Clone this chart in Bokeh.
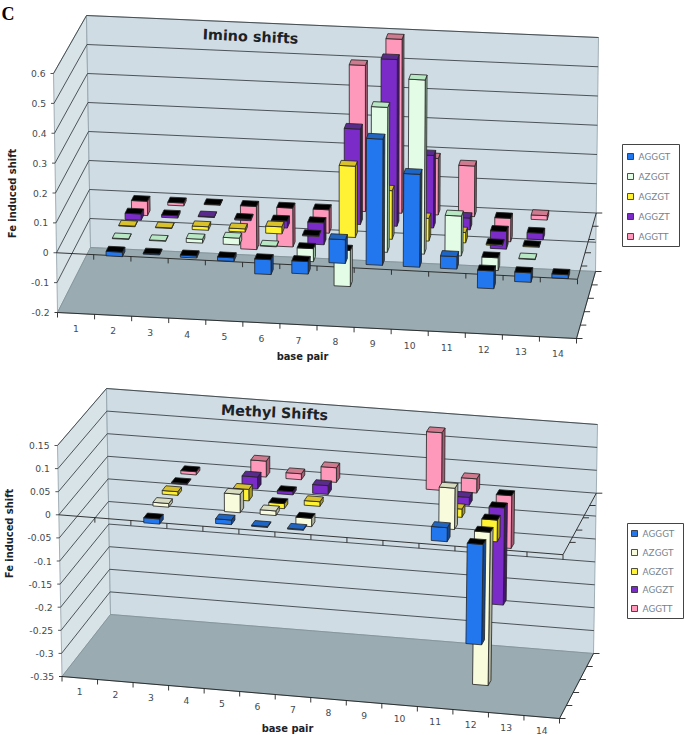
from bokeh.plotting import figure
from bokeh.models import Range1d, ColumnDataSource
from bokeh.core.properties import value
from bokeh.embed import file_html
from bokeh.resources import INLINE
import math

# ---------- data ----------
base_pairs = [str(i) for i in range(1, 15)]
series_names = ["AGGGT", "AZGGT", "AGZGT", "AGGZT", "AGGTT"]
N = None
imino_AGGGT = [N, -.015, -.003, -.007, -.012, -.05, -.042, .08, .425, .313, .042, -.06, -.032, -.013]
imino_AZGGT = [N, .002, .002, .013, .023, .002, -.044, -.122, .49, .589, .135, -.043, .002, N]
imino_AGZGT = [N, .002, .002, .012, .011, .024, -.003, .242, .165, .077, .035, -.004, -.003, N]
imino_AGGZT = [N, -.021, -.008, .002, -.005, -.024, -.075, .325, .568, .247, .04, -.06, -.022, N]
imino_AGGTT = [N, -.049, -.01, -.002, -.148, -.133, -.08, .5, .595, .193, .173, -.08, .015, N]

methyl_AGGGT = [N, N, -.011, N, .01, .002, .002, N, N, N, .03, -.215, N, N]
methyl_AZGGT = [N, N, .008, N, .04, .01, -.018, N, N, N, .089, -.33, N, N]
methyl_AGZGT = [N, N, .008, N, .025, -.011, .01, N, N, N, .018, -.047, N, N]
methyl_AGGZT = [N, N, -.002, N, .026, -.007, .019, N, N, N, .017, -.211, N, N]
methyl_AGGTT = [N, N, -.007, N, .035, .013, .032, N, N, .126, .031, -.115, N, N]

imino_ticks = ["0.6", "0.5", "0.4", "0.3", "0.2", "0.1", "0", "-0.1", "-0.2"]
methyl_ticks = ["0.15", "0.1", "0.05", "0", "-0.05", "-0.1", "-0.15", "-0.2", "-0.25", "-0.3", "-0.35"]

# ---------- styles: front, top, side ----------
BLUE = ("#2277ee", "#1f66c4", "#15478f")
PURPLE = ("#7a2bc8", "#5a2a8e", "#44176e")
YELLOW = ("#fff133", "#d9c12b", "#a59a24")
PINK = ("#ff99bb", "#d07a90", "#a85c74")
GREENISH = ("#e3fce6", "#b7e8c3", "#9cbfa4")
CREAM = ("#f8fbdc", "#d8dcc0", "#b0b4a0")
WALL, SIDEWALL, FLOOR = "#cfdce3", "#d8e3e8", "#9aacb2"

p = figure(width=684, height=735, x_range=Range1d(0, 684), y_range=Range1d(735, 0),
           x_axis_type=None, y_axis_type=None, toolbar_location=None, output_backend="svg",
           min_border=0, outline_line_color=None, background_fill_color="white")
p.grid.visible = False


def draw_chart(cfg):
    vmin, vmax = cfg["vmin"], cfg["vmax"]
    c = cfg["corners"]

    def P(u, d, v):
        a, b, t = u / 14, d / 5, (v - vmin) / (vmax - vmin)
        def mix(k):
            fb = c["FLB"][k] * (1 - a) + c["FRB"][k] * a
            bb = c["BLB"][k] * (1 - a) + c["BRB"][k] * a
            ft = c["FLT"][k] * (1 - a) + c["FRT"][k] * a
            bt = c["BLT"][k] * (1 - a) + c["BRT"][k] * a
            return (fb * (1 - b) + bb * b) * (1 - t) + (ft * (1 - b) + bt * b) * t
        return mix(0), mix(1)

    def poly(xs, ys, pts, fills, fill, out=None, lines=None, line="#222222"):
        xs.append([q[0] for q in pts])
        ys.append([q[1] for q in pts])
        fills.append(fill)
        if lines is not None:
            lines.append(line)

    # walls and floor
    wx, wy, wf, wl = [], [], [], []
    poly(wx, wy, [P(0, 0, vmin), P(0, 0, vmax), P(0, 5, vmax), P(0, 5, vmin)], wf, SIDEWALL, lines=wl, line="#8f9ea6")
    poly(wx, wy, [P(0, 5, vmin), P(0, 5, vmax), P(14, 5, vmax), P(14, 5, vmin)], wf, WALL, lines=wl, line="#8f9ea6")
    p.patches(wx, wy, fill_color=wf, line_color=wl, line_width=0.8)

    # gridlines on both walls
    gx, gy = [], []
    for lab in cfg["ticks"]:
        v = float(lab)
        a0, a1, a2 = P(0, 0, v), P(0, 5, v), P(14, 5, v)
        gx.append([a0[0] - 3, a0[0], a1[0], a2[0]])
        gy.append([a0[1], a0[1], a1[1], a2[1]])
    p.multi_line(gx[:-1], gy[:-1], line_color="#3c4448", line_width=0.9)

    p.patch(*zip(P(0, 0, vmin), P(0, 5, vmin), P(14, 5, vmin), P(14, 0, vmin)),
            fill_color=FLOOR, line_color="#7f9096", line_width=0.8)

    # axis lines and ticks
    tx, ty = [], []
    for a, b in [(P(0, 0, 0), P(14, 0, 0)), (P(14, 0, 0), P(14, 5, 0)),
                 (P(0, 0, vmin), P(14, 0, vmin)), (P(14, 0, vmin), P(14, 5, vmin))]:
        tx.append([a[0], b[0]])
        ty.append([a[1], b[1]])
    tx.append([P(0, 0, vmin)[0] - 3, P(0, 0, vmin)[0]])
    ty.append([P(0, 0, vmin)[1], P(0, 0, vmin)[1]])
    for u in range(0, 15):
        q = P(u, 0, vmin)
        tx.append([q[0], q[0]]); ty.append([q[1], q[1] + 5])
        if u:
            q = P(u, 0, 0)
            tx.append([q[0], q[0]]); ty.append([q[1], q[1] + 5])
    for d in range(0, 6):
        for lev in (vmin, 0):
            if d == 0 and lev == 0:
                continue
            q = P(14, d, lev)
            tx.append([q[0], q[0] + 6]); ty.append([q[1], q[1]])
    p.multi_line(tx, ty, line_color="#222222", line_width=0.9)

    # bars, back row first
    bx, by, bf = [], [], []
    colors = cfg["colors"]
    for s in range(4, -1, -1):
        for i, v in enumerate(cfg["series"][s]):
            if v is None:
                continue
            u0, u1 = i + .28, i + .72
            d0, d1 = s + .3, s + .7
            top = max(v, 0)
            bot = min(v, 0)
            front, topc, side = colors[s]
            poly(bx, by, [P(u1, d0, bot), P(u1, d0, top), P(u1, d1, top), P(u1, d1, bot)], bf, side)
            poly(bx, by, [P(u0, d0, bot), P(u1, d0, bot), P(u1, d0, top), P(u0, d0, top)], bf, front)
            poly(bx, by, [P(u0, d0, top), P(u1, d0, top), P(u1, d1, top), P(u0, d1, top)], bf,
                 "#000000" if v < 0 else topc)
    p.patches(bx, by, fill_color=bf, line_color="#222222", line_width=0.8)

    # texts
    lab_v = [float(l) for l in cfg["ticks"]]
    p.text([P(0, 0, v)[0] - 8 for v in lab_v], [P(0, 0, v)[1] for v in lab_v], text=cfg["ticks"],
           text_font=value("DejaVu Sans"), text_font_size="9.2px", text_color="#444b50",
           text_align="right", text_baseline="middle")
    us = [i + .5 for i in range(14)]
    p.text([P(u, 0, vmin)[0] for u in us], [P(u, 0, vmin)[1] + cfg["bp_offset"] for u in us], text=base_pairs,
           text_font=value("DejaVu Sans"), text_font_size="9.2px", text_color="#444b50",
           text_align="center", text_baseline="middle")
    for (x, y, txt, size, ang) in cfg["labels"]:
        p.text([x], [y], text=[txt], text_font=value("DejaVu Sans"), text_font_size=size,
               text_font_style="bold", text_color="#1c2226", text_align="center",
               text_baseline="middle", angle=ang)

    # legend
    lx0, ly0, lx1, ly1 = cfg["legend_box"]
    p.quad(left=[lx0], right=[lx1], top=[ly0], bottom=[ly1], fill_color="white",
           line_color="#444444", line_width=1)
    ys = cfg["legend_y"]
    sx, tx_ = cfg["legend_x"]
    p.quad(left=[sx - 3] * 5, right=[sx + 3] * 5, top=[y - 3 for y in ys], bottom=[y + 3 for y in ys],
           fill_color=[colors[k][0] for k in range(5)], line_color="#222222", line_width=0.8)
    p.text([tx_] * 5, ys, text=series_names, text_font=value("DejaVu Sans"), text_font_size="8.9px",
           text_color="#74838e", text_align="left", text_baseline="middle")


draw_chart(dict(
    vmin=-.2, vmax=.6, ticks=imino_ticks, bp_offset=15.5,
    series=[imino_AGGGT, imino_AZGGT, imino_AGZGT, imino_AGGZT, imino_AGGTT],
    colors=[BLUE, GREENISH, YELLOW, PURPLE, PINK],
    corners=dict(FLB=(57, 312), FLT=(53, 73), FRB=(576, 338), FRT=(580, 101),
                 BLB=(90, 247), BLT=(86, 15), BRB=(595, 271), BRT=(598, 37)),
    labels=[(250, 36, "Imino shifts", "14.4px", -0.045),
            (302, 356, "base pair", "9.9px", 0),
            (12, 193, "Fe induced shift", "9.9px", math.pi / 2)],
    legend_box=(622, 144, 679, 246), legend_y=[156, 176, 196, 216, 236], legend_x=(630, 638),
))
draw_chart(dict(
    vmin=-.35, vmax=.15, ticks=methyl_ticks, bp_offset=13,
    series=[methyl_AGGGT, methyl_AZGGT, methyl_AGZGT, methyl_AGGZT, methyl_AGGTT],
    colors=[BLUE, CREAM, YELLOW, PURPLE, PINK],
    corners=dict(FLB=(61.5, 676), FLT=(57, 445), FRB=(559, 718), FRT=(564, 484),
                 BLB=(110, 614), BLT=(106, 388), BRB=(593, 653), BRT=(597, 424)),
    labels=[(274, 412, "Methyl Shifts", "14.3px", -0.05),
            (287, 728, "base pair", "9.9px", 0),
            (9, 533, "Fe induced shift", "9.9px", math.pi / 2)],
    legend_box=(627, 523, 683, 618), legend_y=[533, 552, 571, 589, 608], legend_x=(634, 642),
))

p.text([1], [13], text=["C"], text_font=value("Liberation Serif"), text_font_size="18px",
       text_font_style="bold", text_color="black", text_align="left", text_baseline="middle")

open("out.html", "w").write(file_html(p, INLINE))
